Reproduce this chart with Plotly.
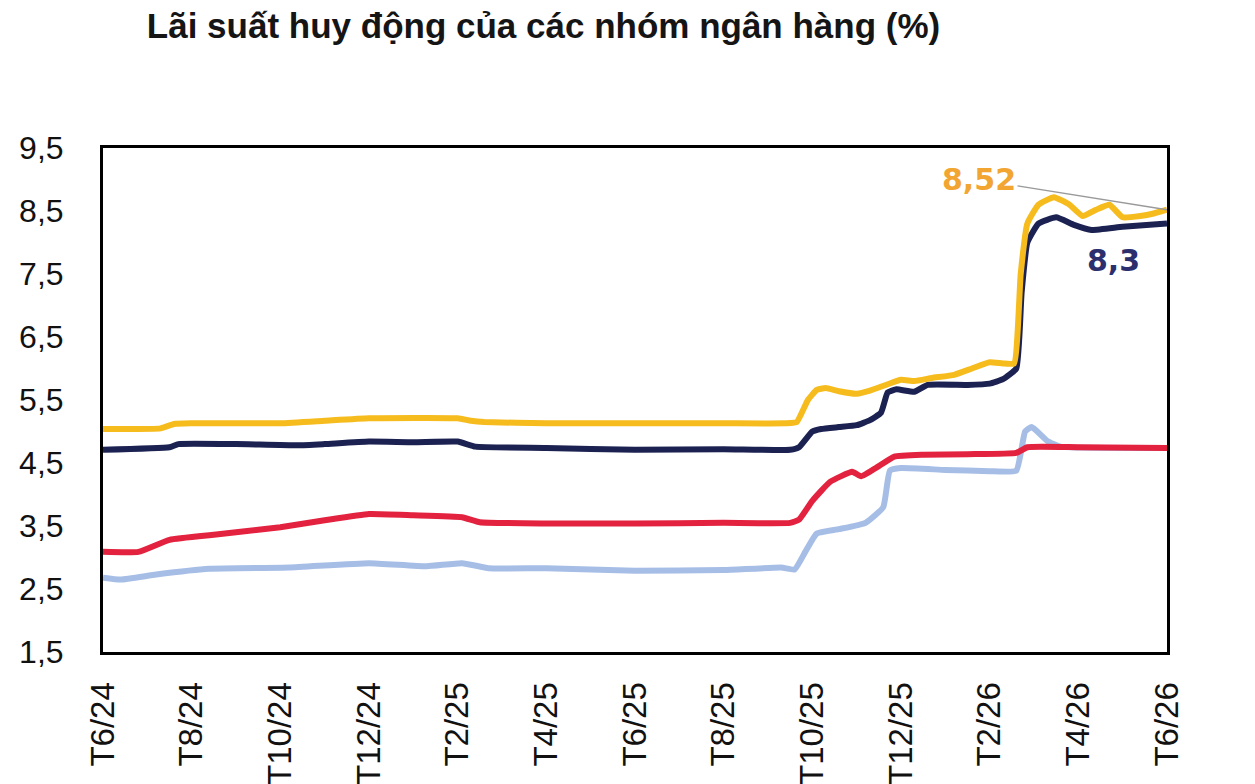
import plotly.graph_objects as go

# x positions in months since T6/24
tick_vals = list(range(0, 25, 2))
tick_text = ["T6/24", "T8/24", "T10/24", "T12/24", "T2/25", "T4/25", "T6/25",
             "T8/25", "T10/25", "T12/25", "T2/26", "T4/26", "T6/26"]
y_ticks = [1.5, 2.5, 3.5, 4.5, 5.5, 6.5, 7.5, 8.5, 9.5]
y_tick_text = ["1,5", "2,5", "3,5", "4,5", "5,5", "6,5", "7,5", "8,5", "9,5"]

yellow_x = [0, 1.3, 1.6, 2, 4, 5, 6, 8, 8.3, 8.6, 10, 12, 14, 15.4, 15.65, 15.9, 16.1, 16.3, 16.6,
            17.0, 17.3, 17.7, 18.0, 18.3, 18.7, 19.2, 19.6, 20.0, 20.3, 20.55, 20.7, 20.85, 21.1,
            21.45, 21.8, 22.1, 22.4, 22.7, 23.0, 23.4, 23.7, 24.0]
yellow_y = [5.04, 5.05, 5.12, 5.13, 5.13, 5.17, 5.21, 5.21, 5.17, 5.15, 5.13, 5.13, 5.13, 5.13, 5.15,
            5.5, 5.66, 5.69, 5.64, 5.6, 5.65, 5.75, 5.82, 5.80, 5.85, 5.9, 6.0, 6.1, 6.08, 6.08, 7.5,
            8.3, 8.6, 8.72, 8.6, 8.42, 8.52, 8.6, 8.4, 8.42, 8.46, 8.52]

navy_x = [0, 1.5, 1.7, 3, 4.4, 5, 6, 7, 8, 8.4, 10, 12, 14, 15.5, 15.7, 16.0, 16.2, 16.6, 17.0, 17.3,
          17.55, 17.7, 17.9, 18.3, 18.6, 19.5, 20.0, 20.3, 20.6, 20.72, 20.85, 21.1, 21.5, 21.9,
          22.3, 23, 24]
navy_y = [4.71, 4.75, 4.8, 4.8, 4.78, 4.8, 4.84, 4.83, 4.84, 4.76, 4.74, 4.71, 4.72, 4.71, 4.75, 5.0,
          5.04, 5.07, 5.1, 5.18, 5.3, 5.62, 5.67, 5.63, 5.74, 5.74, 5.76, 5.83, 6.0, 7.2, 8.0, 8.3,
          8.4, 8.28, 8.2, 8.25, 8.3]

red_x = [0, 0.8, 1.5, 2.5, 3, 4, 5, 6, 7, 8.1, 8.5, 10, 12, 14, 15.5, 15.7, 16.0, 16.4, 16.9, 17.1,
         17.5, 17.85, 18.5, 19.5, 20.6, 20.85, 22, 24]
red_y = [3.09, 3.09, 3.28, 3.36, 3.4, 3.48, 3.59, 3.69, 3.67, 3.64, 3.56, 3.54, 3.54, 3.55, 3.55, 3.6,
         3.9, 4.2, 4.36, 4.29, 4.45, 4.6, 4.63, 4.64, 4.66, 4.75, 4.75, 4.74]

blue_x = [0, 0.4, 1.2, 2.4, 4.2, 6, 7.3, 8.1, 8.7, 10, 12, 14, 15.3, 15.6, 15.85, 16.1, 16.6, 17.2,
          17.6, 17.75, 18.0, 19, 20.0, 20.6, 20.8, 20.95, 21.3, 21.6, 24]
blue_y = [2.68, 2.65, 2.73, 2.82, 2.84, 2.91, 2.86, 2.91, 2.83, 2.83, 2.79, 2.8, 2.84, 2.81, 3.1, 3.38,
          3.45, 3.55, 3.8, 4.38, 4.42, 4.39, 4.37, 4.38, 5.0, 5.07, 4.85, 4.76, 4.74]

series = [
    (blue_x, blue_y, "#A6BEE6"),
    (red_x, red_y, "#E3223F"),
    (navy_x, navy_y, "#1B2150"),
    (yellow_x, yellow_y, "#F6BB1C"),
]

fig = go.Figure()
for xs, ys, col in series:
    fig.add_trace(go.Scatter(x=xs, y=ys, mode="lines",
                             line=dict(color=col, width=6, shape="spline", smoothing=0.4),
                             hoverinfo="skip", showlegend=False))

fig.add_annotation(x=yellow_x[-1], y=yellow_y[-1], text="<b>8,52</b>", showarrow=True,
                   arrowhead=0, arrowwidth=1.5, arrowcolor="#9a9a9a", ax=-188, ay=-30,
                   font=dict(family="DejaVu Sans", size=30, color="#F2A531"))
fig.add_annotation(x=navy_x[-1], y=navy_y[-1], text="<b>8,3</b>", showarrow=False,
                   xshift=-54, yshift=-37,
                   font=dict(family="DejaVu Sans", size=30, color="#2B2F6E"))

fig.update_layout(
    width=1255, height=784,
    margin=dict(l=103, r=88, t=148, b=132),
    paper_bgcolor="white", plot_bgcolor="white",
    title=dict(text="<b>Lãi suất huy động của các nhóm ngân hàng (%)</b>",
               x=0.117, xanchor="left", y=0.9676, yanchor="middle",
               font=dict(family="Liberation Sans, Arial", size=35, color="#151515")),
    font=dict(family="Liberation Sans, Arial", color="#111111"),
)
fig.update_xaxes(range=[0, 24], tickvals=tick_vals, ticktext=tick_text, tickangle=-90,
                 showgrid=False, zeroline=False, showline=True, linecolor="black", linewidth=3,
                 mirror=True, ticks="", ticklabelstandoff=14, automargin=False,
                 tickfont=dict(size=33, color="#111111"))
fig.update_yaxes(range=[1.5, 9.5], tickvals=y_ticks, ticktext=y_tick_text,
                 showgrid=False, zeroline=False, showline=True, linecolor="black", linewidth=3,
                 mirror=True, ticks="", ticklabelstandoff=30, automargin=False,
                 tickfont=dict(size=32, color="#111111"))

fig.write_html("out.html")
